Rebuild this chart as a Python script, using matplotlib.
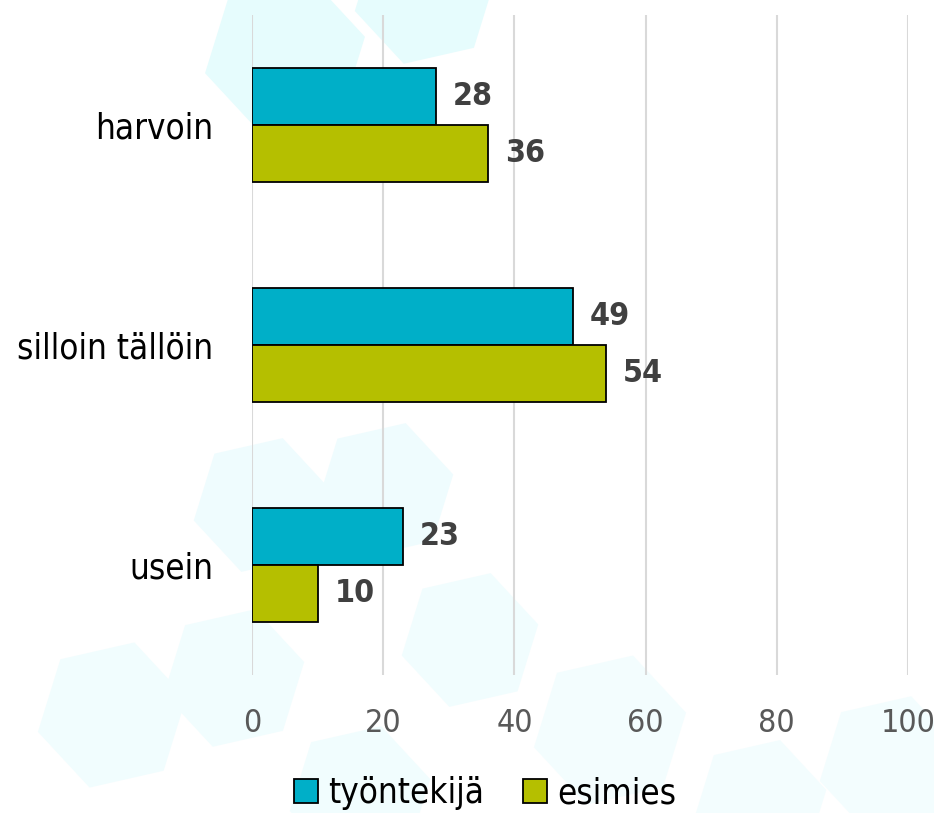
import numpy as np
import matplotlib.pyplot as plt
from matplotlib.patches import RegularPolygon

plt.rcParams['font.family'] = ['DejaVu Sans']
plt.rcParams['font.stretch'] = 'condensed'

categories = ['harvoin', 'silloin tällöin', 'usein']
tyontekija = [28, 49, 23]
esimies = [36, 54, 10]
series_names = ['työntekijä', 'esimies']
xticks = [0, 20, 40, 60, 80, 100]

teal = '#00afc8'
olive = '#b5bf00'

W, H = 934, 813
fig = plt.figure(figsize=(W / 100, H / 100), dpi=100)

# faint hexagon pattern behind the chart, in pixel units
bg = fig.add_axes([0, 0, 1, 1], zorder=-1)
bg.set_xlim(0, W)
bg.set_ylim(H, 0)
bg.axis('off')
hexes = [(285, 55, 82, '#e6fcfd'), (425, -5, 72, '#e6fcfd'),
         (262, 505, 70, '#effcfe'), (385, 490, 70, '#effcfe'),
         (112, 715, 76, '#f1fdfe'), (234, 678, 72, '#f1fdfe'),
         (470, 640, 70, '#f1fdfe'), (360, 795, 72, '#f1fdfe'),
         (610, 730, 78, '#f3fdfe'), (760, 805, 68, '#f3fdfe'),
         (890, 765, 72, '#f3fdfe')]
for cx, cy, r, c in hexes:
    bg.add_patch(RegularPolygon((cx, cy), 6, radius=r, orientation=0.3,
                                facecolor=c, edgecolor='none'))

ax = fig.add_axes([252 / W, 1 - 675 / H, (908 - 252) / W, (675 - 15) / H])
ax.patch.set_alpha(0)

y = np.arange(len(categories))
h = 0.26
b1 = ax.barh(y - h / 2, tyontekija, height=h, color=teal, edgecolor='black',
             linewidth=1.3, label=series_names[0], zorder=3)
b2 = ax.barh(y + h / 2, esimies, height=h, color=olive, edgecolor='black',
             linewidth=1.3, label=series_names[1], zorder=3)
for bars in (b1, b2):
    ax.bar_label(bars, padding=12, fontsize=23, color='#404040', fontweight='bold')

ax.set_xlim(0, 100)
ax.set_ylim(2.5, -0.5)
ax.set_xticks(xticks)
ax.set_yticks(y)
ax.set_yticklabels(categories, fontsize=25, color='black', fontweight='medium')
ax.tick_params(axis='x', labelsize=23, labelcolor='#595959', length=0, pad=24)
ax.tick_params(axis='y', length=0, pad=28)
ax.grid(axis='x', color='#d9d9d9', linewidth=1.5, zorder=0)
for s in ax.spines.values():
    s.set_visible(False)

fig.legend(handles=[b1, b2], loc='center', bbox_to_anchor=(485 / W, 1 - 793 / H),
           ncol=2, frameon=False, fontsize=25, handlelength=0.7, handleheight=0.7,
           handletextpad=0.3, columnspacing=1.1, borderpad=0)

fig.savefig('out.png', dpi=100)
